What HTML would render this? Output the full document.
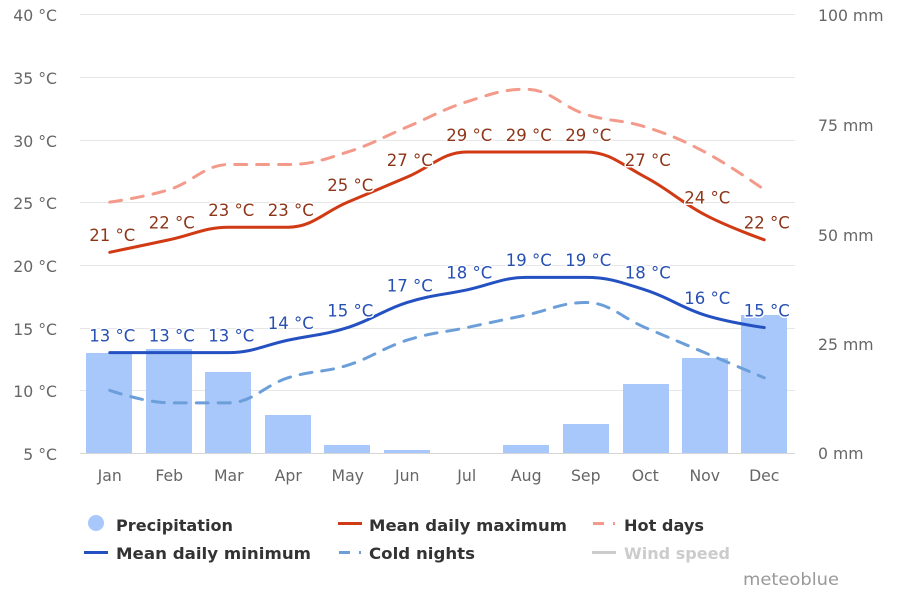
<!DOCTYPE html>
<html><head><meta charset="utf-8">
<style>
html,body{margin:0;padding:0;background:#fff;}
svg{display:block;}
text{font-family:"DejaVu Sans","Liberation Sans",sans-serif;}
.ax{fill:#666;font-size:15.7px;}
.lg{fill:#333;font-size:16px;font-weight:bold;}
.dl{font-size:16.5px;font-weight:normal;stroke:#fff;stroke-width:3px;paint-order:stroke;stroke-linejoin:round;}
.r{fill:#8e3519;}
.b{fill:#2750b3;}
</style></head>
<body>
<svg id="c" width="900" height="600" viewBox="0 0 900 600" xmlns="http://www.w3.org/2000/svg">
<g stroke="#e6e6e6" stroke-width="1">
<line x1="80" y1="14.5" x2="795" y2="14.5"/>
<line x1="80" y1="77.5" x2="795" y2="77.5"/>
<line x1="80" y1="140.5" x2="795" y2="140.5"/>
<line x1="80" y1="202.5" x2="795" y2="202.5"/>
<line x1="80" y1="265.5" x2="795" y2="265.5"/>
<line x1="80" y1="328.5" x2="795" y2="328.5"/>
<line x1="80" y1="390.5" x2="795" y2="390.5"/>
</g>
<g fill="#a8c7fa">
<rect x="86" y="353" width="46" height="100"/>
<rect x="146" y="349" width="46" height="104"/>
<rect x="205" y="372" width="46" height="81"/>
<rect x="265" y="415" width="46" height="38"/>
<rect x="324" y="445" width="46" height="8"/>
<rect x="384" y="450" width="46" height="3"/>
<rect x="503" y="445" width="46" height="8"/>
<rect x="563" y="424" width="46" height="29"/>
<rect x="623" y="384" width="46" height="69"/>
<rect x="682" y="358" width="46" height="95"/>
<rect x="741" y="315" width="46" height="138"/>
</g>
<line x1="80" y1="453.5" x2="795" y2="453.5" stroke="#d6d6d6" stroke-width="1"/>
<g class="ax" text-anchor="end">
<text x="57" y="21">40 °C</text>
<text x="57" y="84">35 °C</text>
<text x="57" y="147">30 °C</text>
<text x="57" y="209">25 °C</text>
<text x="57" y="272">20 °C</text>
<text x="57" y="335">15 °C</text>
<text x="57" y="397">10 °C</text>
<text x="57" y="460">5 °C</text>
</g>
<g class="ax">
<text x="818" y="21">100 mm</text>
<text x="818" y="131">75 mm</text>
<text x="818" y="241">50 mm</text>
<text x="818" y="350">25 mm</text>
<text x="818" y="459">0 mm</text>
</g>
<g class="ax" text-anchor="middle">
<text x="109.75" y="481">Jan</text>
<text x="169.25" y="481">Feb</text>
<text x="228.75" y="481">Mar</text>
<text x="288.25" y="481">Apr</text>
<text x="347.75" y="481">May</text>
<text x="407.25" y="481">Jun</text>
<text x="466.75" y="481">Jul</text>
<text x="526.25" y="481">Aug</text>
<text x="585.75" y="481">Sep</text>
<text x="645.25" y="481">Oct</text>
<text x="704.75" y="481">Nov</text>
<text x="764.25" y="481">Dec</text>
</g>
<path id="hot" fill="none" stroke="#f39a8a" stroke-width="3" stroke-dasharray="12,10" stroke-linecap="round"/>
<path id="cold" fill="none" stroke="#6c9fda" stroke-width="3" stroke-dasharray="12,10" stroke-linecap="round"/>
<path id="max" fill="none" stroke="#d03a14" stroke-width="3" stroke-linecap="round"/>
<path id="min" fill="none" stroke="#2451c2" stroke-width="3" stroke-linecap="round"/>
<g class="dl r" text-anchor="middle">
<text x="112.25" y="241">21 °C</text>
<text x="171.75" y="228.5">22 °C</text>
<text x="231.25" y="216">23 °C</text>
<text x="290.75" y="216">23 °C</text>
<text x="350.25" y="191">25 °C</text>
<text x="409.75" y="166">27 °C</text>
<text x="469.25" y="141">29 °C</text>
<text x="528.75" y="141">29 °C</text>
<text x="588.25" y="141">29 °C</text>
<text x="647.75" y="166">27 °C</text>
<text x="707.25" y="203.5">24 °C</text>
<text x="766.75" y="228.5">22 °C</text>
</g>
<g class="dl b" text-anchor="middle">
<text x="112.25" y="341.5">13 °C</text>
<text x="171.75" y="341.5">13 °C</text>
<text x="231.25" y="341.5">13 °C</text>
<text x="290.75" y="329">14 °C</text>
<text x="350.25" y="316.5">15 °C</text>
<text x="409.75" y="291.5">17 °C</text>
<text x="469.25" y="278.5">18 °C</text>
<text x="528.75" y="266">19 °C</text>
<text x="588.25" y="266">19 °C</text>
<text x="647.75" y="278.5">18 °C</text>
<text x="707.25" y="304">16 °C</text>
<text x="766.75" y="316.5">15 °C</text>
</g>
<circle cx="96" cy="523" r="8" fill="#a8c7fa"/>
<text class="lg" x="116" y="531" textLength="117" lengthAdjust="spacingAndGlyphs">Precipitation</text>
<line x1="338" y1="523.5" x2="362" y2="523.5" stroke="#d03a14" stroke-width="3"/>
<text class="lg" x="369" y="531" textLength="198" lengthAdjust="spacingAndGlyphs">Mean daily maximum</text>
<line x1="593" y1="523.5" x2="604" y2="523.5" stroke="#f39a8a" stroke-width="3"/>
<line x1="613" y1="523.5" x2="615" y2="523.5" stroke="#f39a8a" stroke-width="3"/>
<text class="lg" x="624" y="531" textLength="80" lengthAdjust="spacingAndGlyphs">Hot days</text>
<line x1="84" y1="552.5" x2="108" y2="552.5" stroke="#2451c2" stroke-width="3"/>
<text class="lg" x="116" y="559" textLength="195" lengthAdjust="spacingAndGlyphs">Mean daily minimum</text>
<line x1="339" y1="552.5" x2="350" y2="552.5" stroke="#6c9fda" stroke-width="3"/>
<line x1="359" y1="552.5" x2="361" y2="552.5" stroke="#6c9fda" stroke-width="3"/>
<text class="lg" x="369" y="559" textLength="106" lengthAdjust="spacingAndGlyphs">Cold nights</text>
<line x1="592" y1="552.5" x2="616" y2="552.5" stroke="#cccccc" stroke-width="3"/>
<text class="lg" x="624" y="559" textLength="106" lengthAdjust="spacingAndGlyphs" style="fill:#cccccc">Wind speed</text>
<text x="743" y="585" textLength="96" lengthAdjust="spacingAndGlyphs" style="fill:#999;font-size:17px">meteoblue</text>
</svg>
<script>
(function(){
function xs(i){return 109.75+59.5*i;}
function yT(t){return 453-(t-5)*12.543;}
function spline(vals){
  var pts=vals.map(function(v,i){return {x:xs(i),y:yT(v)};});
  var d='M'+pts[0].x.toFixed(2)+' '+pts[0].y.toFixed(2);
  var s=1.5,den=s+1;
  for(var i=1;i<pts.length;i++){
    var p=pts[i],l=pts[i-1],n=pts[i+1];
    var lcx,lcy;
    if(n){
      lcx=(s*p.x+l.x)/den; lcy=(s*p.y+l.y)/den;
      var rcx=(s*p.x+n.x)/den, rcy=(s*p.y+n.y)/den;
      var c=0;
      if(rcx!==lcx){c=((rcy-lcy)*(rcx-p.x))/(rcx-lcx)+p.y-rcy;}
      lcy+=c; rcy+=c;
      if(lcy>l.y&&lcy>p.y){lcy=Math.max(l.y,p.y);rcy=2*p.y-lcy;}
      else if(lcy<l.y&&lcy<p.y){lcy=Math.min(l.y,p.y);rcy=2*p.y-lcy;}
      if(rcy>n.y&&rcy>p.y){rcy=Math.max(n.y,p.y);lcy=2*p.y-rcy;}
      else if(rcy<n.y&&rcy<p.y){rcy=Math.min(n.y,p.y);lcy=2*p.y-rcy;}
      p.rcx=rcx;p.rcy=rcy;
    } else {lcx=p.x;lcy=p.y;}
    var a=(l.rcx!==undefined)?l.rcx:l.x, b=(l.rcy!==undefined)?l.rcy:l.y;
    d+=' C'+a.toFixed(2)+' '+b.toFixed(2)+' '+lcx.toFixed(2)+' '+lcy.toFixed(2)+' '+p.x.toFixed(2)+' '+p.y.toFixed(2);
  }
  return d;
}
document.getElementById('max').setAttribute('d',spline([21,22,23,23,25,27,29,29,29,27,24,22]));
document.getElementById('min').setAttribute('d',spline([13,13,13,14,15,17,18,19,19,18,16,15]));
document.getElementById('hot').setAttribute('d',spline([25,26,28,28,29,31,33,34,32,31,29,26]));
document.getElementById('cold').setAttribute('d',spline([10,9,9,11,12,14,15,16,17,15,13,11]));
})();
</script>
</body></html>
